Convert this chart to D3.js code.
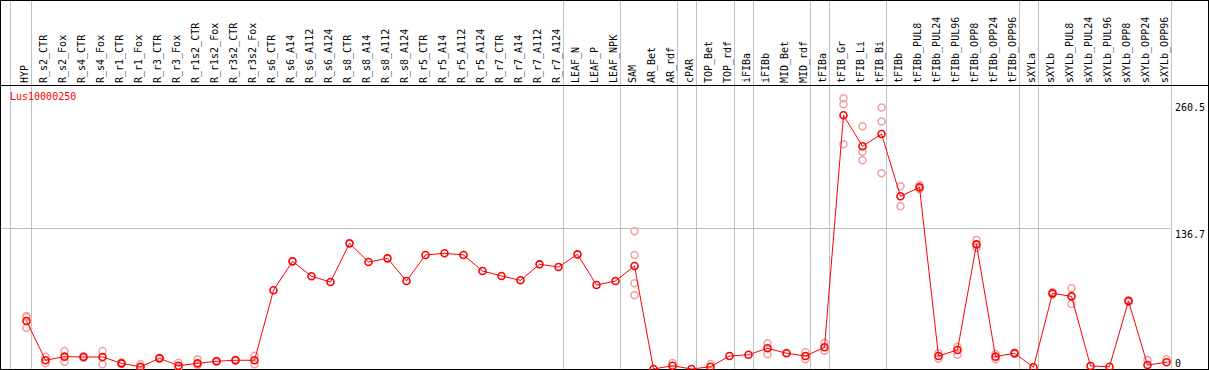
<!DOCTYPE html>
<html>
<head>
<meta charset="utf-8">
<script src="https://cdn.jsdelivr.net/npm/d3@7"></script>
<style>
  body{margin:0;background:#fff;}
  svg{display:block;}
  text{font-family:"DejaVu Sans Mono",monospace;font-size:10px;}
</style>
</head>
<body>
<div id="chart"></div>
<script>
var gene="Lus10000250";
var samples=["HYP","R_s2_CTR","R_s2_Fox","R_s4_CTR","R_s4_Fox","R_r1_CTR","R_r1_Fox","R_r3_CTR","R_r3_Fox",
  "R_r1s2_CTR","R_r1s2_Fox","R_r3s2_CTR","R_r3s2_Fox","R_s6_CTR","R_s6_A14","R_s6_A112","R_s6_A124",
  "R_s8_CTR","R_s8_A14","R_s8_A112","R_s8_A124","R_r5_CTR","R_r5_A14","R_r5_A112","R_r5_A124",
  "R_r7_CTR","R_r7_A14","R_r7_A112","R_r7_A124","LEAF_N","LEAF_P","LEAF_NPK","SAM","AR_Bet","AR_rdf",
  "cPAR","TOP_Bet","TOP_rdf","iFIBa","iFIBb","MID_Bet","MID_rdf","tFIBa","tFIB_Gr","tFIB_Li","tFIB_Bi",
  "tFIBb","tFIBb_PUL8","tFIBb_PUL24","tFIBb_PUL96","tFIBb_OPP8","tFIBb_OPP24","tFIBb_OPP96","sXYLa",
  "sXYLb","sXYLb_PUL8","sXYLb_PUL24","sXYLb_PUL96","sXYLb_OPP8","sXYLb_OPP24","sXYLb_OPP96"];
// mean expression
var means=[46.6,8.5,12,11.7,11.7,5.5,2.2,10.4,3.2,5.5,7.5,8.5,8.5,76.5,104.6,90.1,84.5,122.1,104,107.5,
  85.5,110.8,112.4,110.8,95.2,90.4,86.2,101.7,99.1,111.4,81.6,85.5,100.1,0,3.2,0,2.2,12.6,13.9,20.1,15.3,
  12.6,21.1,246.5,216.4,228.3,167.8,176.5,12.6,18.5,121.1,12,15.3,1.7,73.5,70.6,2.9,2.2,66.1,3.9,6.5];
// single replicates (only the ones that show apart from the mean)
var reps=[[51.5,50.5,40.1],[12,5.5],[17.5,7],[12.5,11],[17.5,4.6],[6.2,4.8],[4.6,1.5],[11,9.8],[6.1,1.5],
  [9.4,4],[8,7],[9,8],[12.9,4.6],[],[],[],[],[],[],[],[],[],[],[],[],[],[],[],[],[],[],[],
  [133.8,110.8,83.3,71.6],[],[5.8],[],[4.9],[],[],[25,14.3],[15.5],[16.2,9.4],[25.6,17.8],
  [263,257.2,218.3],[235.8,211.1,202.8],[254.2,240.6,190.1],[177.5,158.1],[178.5,174.6],[15.3,10],
  [21.7,13.9],[125.3,117.8],[14.6,9.4],[16,14.5],[],[74.5,72.5],[78.4,63.1],[],[],[67,65],[8.7],[9.4]];
var yTicks=[0,136.7,260.5];
// group separators come after these sample indexes
var groupEnds=[0,28,31,34,35,37,38,41,42,45,52,53,60];

var W=1209,H=370,headY=85,bottom=369,plotRight=1170;
var svg=d3.select("#chart").append("svg").attr("width",W).attr("height",H);
svg.append("rect").attr("width",W).attr("height",H).attr("fill","#fff");

var x=d3.scaleLinear().domain([0,samples.length-1]).range([26.5,1166.5]);
var y=d3.scaleLinear().domain([0,260.5]).range([bottom,100.9]);

// gray grid
svg.append("line").attr("x1",0).attr("x2",plotRight).attr("y1",Math.round(y(136.7))+0.5).attr("y2",Math.round(y(136.7))+0.5)
  .attr("stroke","#c0c0c0");
svg.append("line").attr("x1",10.5).attr("x2",10.5).attr("y1",0).attr("y2",H).attr("stroke","#c0c0c0");
svg.selectAll(".sep").data(groupEnds).enter().append("line")
  .attr("x1",function(d){return Math.round(x(d)+4)+0.5;})
  .attr("x2",function(d){return Math.round(x(d)+4)+0.5;})
  .attr("y1",0).attr("y2",H).attr("stroke","#c0c0c0");

// frame
svg.append("line").attr("x1",0).attr("x2",W).attr("y1",0.5).attr("y2",0.5).attr("stroke","#000");
svg.append("line").attr("x1",0).attr("x2",W).attr("y1",headY+0.5).attr("y2",headY+0.5).attr("stroke","#000");
svg.append("line").attr("x1",0).attr("x2",W).attr("y1",bottom+0.5).attr("y2",bottom+0.5).attr("stroke","#000");
svg.append("line").attr("x1",0.5).attr("x2",0.5).attr("y1",0).attr("y2",H).attr("stroke","#000");
svg.append("line").attr("x1",W-0.5).attr("x2",W-0.5).attr("y1",0).attr("y2",H).attr("stroke","#000");

// sample labels
svg.selectAll(".lab").data(samples).enter().append("text")
  .attr("transform",function(d,i){return "translate("+(x(i)+1.5)+","+(headY-2)+") rotate(-90)";})
  .attr("fill","#000").text(function(d){return d;});

// y tick labels
svg.selectAll(".tick").data(yTicks).enter().append("text")
  .attr("x",1175)
  .attr("y",function(d){var p=y(d)+10;return p>bottom?bottom-2.5:p;})
  .attr("fill","#000").text(function(d){return d;});

svg.append("text").attr("x",10).attr("y",100).attr("fill","#ff0000").text(gene);

// replicate points
var repPts=[];
reps.forEach(function(r,i){r.forEach(function(v){repPts.push([i,v]);});});
svg.selectAll(".rep").data(repPts).enter().append("circle")
  .attr("cx",function(d){return x(d[0]);}).attr("cy",function(d){return y(d[1]);})
  .attr("r",3.5).attr("fill","none").attr("stroke","#f0a0a0").attr("stroke-width",1.5);

// mean line and points
var line=d3.line().x(function(d,i){return x(i);}).y(function(d){return y(d);});
svg.append("path").datum(means).attr("d",line).attr("fill","none").attr("stroke","#ff0000").attr("stroke-width",1);
svg.selectAll(".mean").data(means).enter().append("circle")
  .attr("cx",function(d,i){return x(i);}).attr("cy",function(d){return y(d);})
  .attr("r",3.5).attr("fill","none").attr("stroke","#ff0000").attr("stroke-width",1.6);
</script>
</body>
</html>
